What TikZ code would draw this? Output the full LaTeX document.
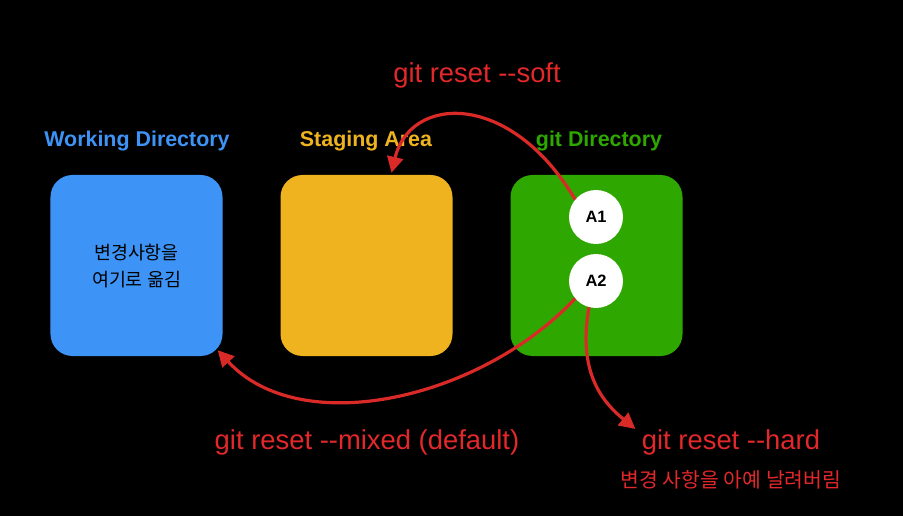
\documentclass[tikz,border=0pt]{standalone}
\usepackage{fontspec}
\setmainfont{Liberation Sans}
\newfontfamily\krfont{Noto Sans CJK KR}
\usetikzlibrary{arrows.meta,calc}
\definecolor{blueC}{HTML}{3D94F6}
\definecolor{yellowC}{HTML}{EEB31E}
\definecolor{greenC}{HTML}{2EA800}
\definecolor{redC}{HTML}{E2282A}
\definecolor{arrowC}{HTML}{D92A27}
\begin{document}
\begin{tikzpicture}[x=1bp,y=-1bp,
  area/.style={rounded corners=22bp, minimum width=172bp, minimum height=181bp, inner sep=0pt},
  title/.style={font=\bfseries\fontsize{21.5}{25}\selectfont},
  commit/.style={circle, fill=white, minimum size=54bp, inner sep=0pt, font=\bfseries\fontsize{16.5}{19}\selectfont, text=black},
  cmd/.style={font=\fontsize{27.5}{32}\selectfont, text=redC},
  resetarrow/.style={draw=arrowC, line width=3.2bp, -{Triangle[length=16bp,width=16bp]}}
]
\fill[black] (0,0) rectangle (903,516);
\useasboundingbox (0,0) rectangle (903,516);

\node[area, fill=blueC] (wd) at (136.5,265.5) {};
\node[area, fill=yellowC] (sa) at (366.5,265.5) {};
\node[area, fill=greenC] (gd) at (596.5,265.5) {};

\node[align=center, font=\krfont\fontsize{18.5}{27}\selectfont, text=black] (wdtext) at (136.5,266) {변경사항을\\여기로 옮김};

\node[title, text=blueC] (wdl) at (137,141.5) {Working Directory};
\node[title, text=yellowC] (sal) at (366,141.5) {Staging Area};
\node[title, text=greenC] (gdl) at (599,141.5) {git Directory};

\node[commit] (a1) at (596,217) {A1};
\node[commit] (a2) at (596,281) {A2};

\node[cmd] (soft) at (477,75.5) {git reset -{}-soft};
\node[cmd] (mixed) at (367,442) {git reset -{}-mixed (default)};
\node[cmd] (hard) at (731,442) {git reset -{}-hard};
\node[font=\krfont\fontsize{20.5}{24}\selectfont, text=redC] (hardnote) at (731,480) {변경 사항을 아예 날려버림};

\draw[resetarrow] (a1.140) .. controls (510,90) and (410,95) .. ($(sa.north)+(25,-2)$);
\draw[resetarrow] (a2.220) .. controls (480,400) and (300,440) .. ($(wd.south east)+(-5,-6)$);
\draw[resetarrow] (a2.255) .. controls (578,370) and (600,400) .. ($(hard.west)+(-3,-13)$);
\end{tikzpicture}
\end{document}
